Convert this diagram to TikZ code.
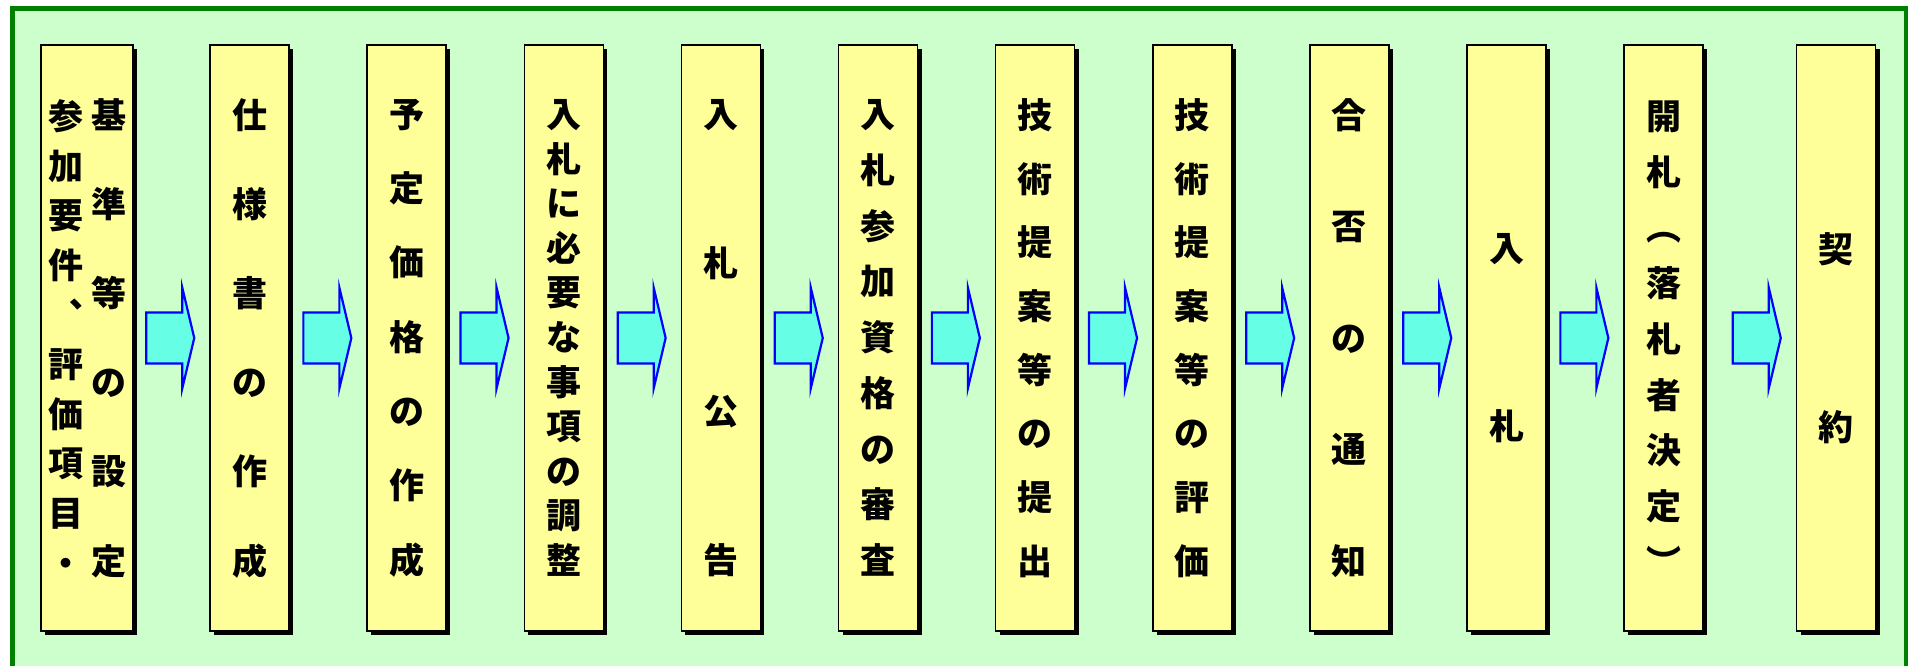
\documentclass[tikz,border=0pt]{standalone}
\usepackage{fontspec}
\setmainfont{Noto Sans CJK JP}
\usetikzlibrary{calc,shadows}

\definecolor{framegreen}{RGB}{0,128,0}
\definecolor{paleground}{RGB}{204,255,204}
\definecolor{boxyellow}{RGB}{255,255,153}
\definecolor{arrowcyan}{RGB}{102,255,230}

% one vertical column of characters, #1 = distance between them
\newcommand{\vcol}[2]{$\vcenter{\fontsize{35}{#1}\selectfont\halign{\hfil##\hfil\cr#2\crcr}}$}

\tikzset{
  stepbox/.style={draw=black, line width=1.5pt, fill=boxyellow, inner sep=0pt,
    minimum width=79pt, minimum height=586pt, font=\bfseries,
    drop shadow={shadow xshift=4pt, shadow yshift=-4pt, fill=black, opacity=1}},
  flowarrow/.style={draw=blue, line width=2.2pt, fill=arrowcyan}
}

\begin{document}
\begin{tikzpicture}[x=1pt, y=1pt]
  \clip (0,0) rectangle (1908,665);
  \fill[paleground] (12.5,656.5) rectangle (1906.5,-20);
  \draw[framegreen, line width=5pt] (12.5,656.5) rectangle (1906.5,-20);

  \node[stepbox, minimum width=92pt] (kijun) at (87,327)
    {\vcol{49.6}{参\cr 加\cr 要\cr 件\cr ︑\cr 評\cr 価\cr 項\cr 目\cr ・}\hspace{8pt}\vcol{89.2}{基\cr 準\cr 等\cr の\cr 設\cr 定}};
  \node[stepbox] (shiyou) at (249.5,327) {\vcol{89.2}{仕\cr 様\cr 書\cr の\cr 作\cr 成}};
  \node[stepbox] (yotei) at (406.6,327) {\vcol{74.3}{予\cr 定\cr 価\cr 格\cr の\cr 作\cr 成}};
  \node[stepbox] (chousei) at (563.8,327) {\vcol{44.6}{入\cr 札\cr に\cr 必\cr 要\cr な\cr 事\cr 項\cr の\cr 調\cr 整}};
  \node[stepbox] (koukoku) at (720.9,327) {\vcol{148.7}{入\cr 札\cr 公\cr 告}};
  \node[stepbox] (shikaku) at (878,327) {\vcol{55.75}{入\cr 札\cr 参\cr 加\cr 資\cr 格\cr の\cr 審\cr 査}};
  \node[stepbox] (teian) at (1035.1,327) {\vcol{63.7}{技\cr 術\cr 提\cr 案\cr 等\cr の\cr 提\cr 出}};
  \node[stepbox] (hyouka) at (1192.3,327) {\vcol{63.7}{技\cr 術\cr 提\cr 案\cr 等\cr の\cr 評\cr 価}};
  \node[stepbox] (tsuuchi) at (1349.4,327) {\vcol{111.5}{合\cr 否\cr の\cr 通\cr 知}};
  \node[stepbox] (nyuusatsu) at (1506.5,327) {\vcol{178}{入\cr 札}};
  \node[stepbox] (kaisatsu) at (1663.6,327) {\vcol{55.75}{開\cr 札\cr ︵\cr 落\cr 札\cr 者\cr 決\cr 定\cr ︶}};
  \node[stepbox] (keiyaku) at (1836,327) {\vcol{178}{契\cr 約}};

  \foreach \a/\b in {kijun/shiyou, shiyou/yotei, yotei/chousei, chousei/koukoku,
      koukoku/shikaku, shikaku/teian, teian/hyouka, hyouka/tsuuchi,
      tsuuchi/nyuusatsu, nyuusatsu/kaisatsu, kaisatsu/keiyaku}
    \draw[flowarrow] ($(\b.west)+(-15,0)$) -- ++(-12,50.5) -- ++(0,-25) -- ++(-36,0)
      -- ++(0,-51) -- ++(36,0) -- ++(0,-25) -- cycle;
\end{tikzpicture}
\end{document}
